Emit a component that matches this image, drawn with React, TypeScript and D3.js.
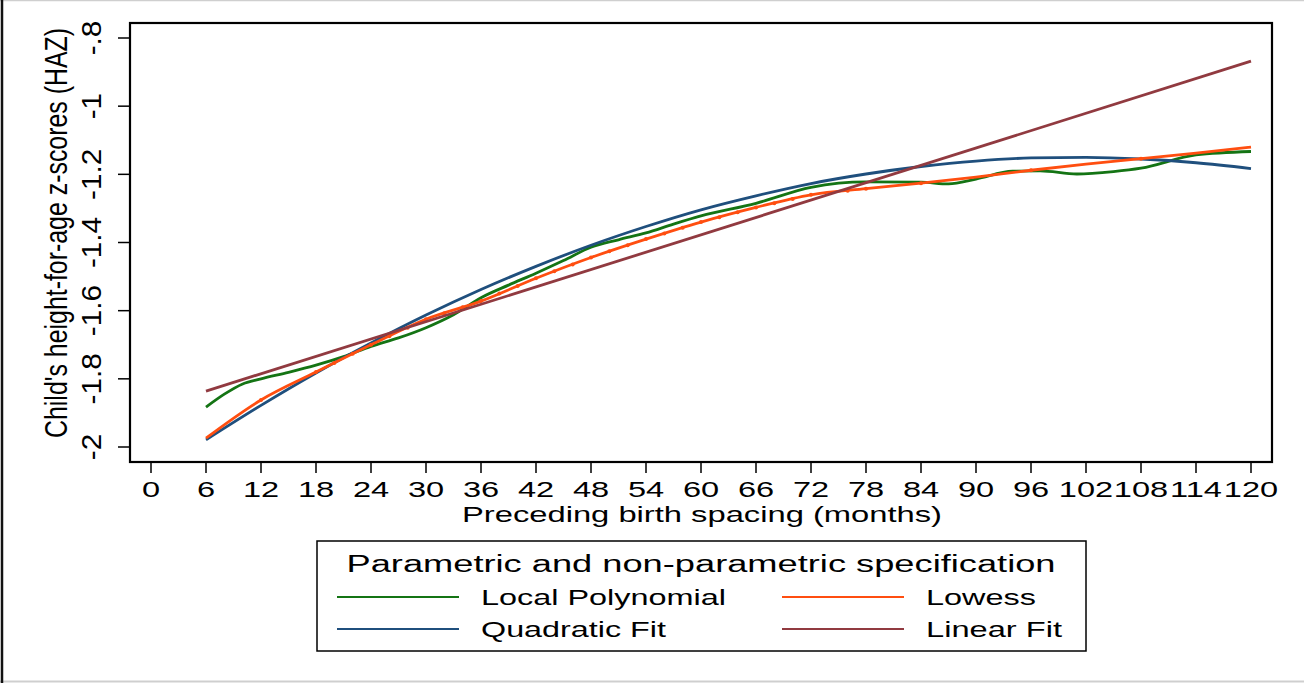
import React from "react";
import * as d3 from "d3";

// ---- Data ----
const xTicks = [0, 6, 12, 18, 24, 30, 36, 42, 48, 54, 60, 66, 72, 78, 84, 90, 96, 102, 108, 114, 120];
const yTicks = [-2, -1.8, -1.6, -1.4, -1.2, -1, -0.8];
const yTickLabels = ["-2", "-1.8", "-1.6", "-1.4", "-1.2", "-1", "-.8"];

const localPolyX = [6, 8, 10, 12, 15, 18, 21, 24, 27, 30, 33, 36, 39, 42, 45, 48, 51, 54, 57, 60, 66, 72, 78, 84, 87, 90, 94, 97, 101, 105, 108, 114, 120];
const localPolyY = [-1.883, -1.845, -1.815, -1.8, -1.781, -1.76, -1.735, -1.705, -1.68, -1.65, -1.612, -1.562, -1.525, -1.49, -1.453, -1.414, -1.392, -1.372, -1.346, -1.322, -1.285, -1.238, -1.222, -1.223, -1.228, -1.214, -1.191, -1.19, -1.199, -1.192, -1.182, -1.143, -1.133];

const lowessX = [6, 12, 18, 24, 30, 36, 42, 48, 54, 60, 66, 72, 78, 84, 90, 96, 102, 108, 114, 120];
const lowessY = [-1.974, -1.862, -1.78, -1.7, -1.625, -1.572, -1.505, -1.444, -1.39, -1.34, -1.297, -1.26, -1.242, -1.226, -1.208, -1.188, -1.17, -1.154, -1.138, -1.12];
const lowessMarkX = [12, 18, 20, 22, 24, 26, 28, 30, 32, 34, 36, 38, 40, 42, 44, 46, 48, 50, 52, 54, 56, 58, 60, 62, 64, 66, 68, 70, 72, 76, 78, 84, 96, 108];

const quadX = [6, 12, 18, 24, 30, 36, 42, 48, 54, 60, 66, 72, 78, 84, 90, 96, 102, 108, 114, 120];
const quadY = [-1.979, -1.878, -1.783, -1.695, -1.613, -1.538, -1.47, -1.408, -1.353, -1.304, -1.263, -1.227, -1.199, -1.177, -1.161, -1.152, -1.15, -1.155, -1.166, -1.183];

const linearX = [6, 120];
const linearY = [-1.836, -0.868];

const seriesNames = ["Local Polynomial", "Lowess", "Quadratic Fit", "Linear Fit"];
const seriesColors = ["#147414", "#ff4e10", "#1f4f7d", "#913a40"];

const xTitle = "Preceding birth spacing (months)";
const yTitle = "Child's height-for-age z-scores (HAZ)";
const legendTitle = "Parametric and non-parametric specification";

export default function App() {
  const x = d3.scaleLinear().domain([0, 120]).range([151, 1251]);
  const y = d3.scaleLinear().domain([-2, -0.8]).range([447, 38]);

  const mk = (xs: number[], ys: number[], curve: any) =>
    d3
      .line<number>()
      .x((_, i) => x(xs[i]))
      .y((d) => y(d))
      .curve(curve)(ys) as string;

  const pathLP = mk(localPolyX, localPolyY, d3.curveMonotoneX);
  const pathLow = mk(lowessX, lowessY, d3.curveMonotoneX);
  const pathQ = mk(quadX, quadY, d3.curveMonotoneX);
  const pathLin = mk(linearX, linearY, d3.curveLinear);
  const lowessAt = d3.scaleLinear().domain(lowessX).range(lowessY);

  const font = "'Liberation Sans', Arial, Helvetica, sans-serif";
  const lw = 2.8;

  // legend layout
  const legendItems = [
    { lx1: 337, lx2: 459, tx: 481, tw: 245, ly: 597 },
    { lx1: 782, lx2: 904, tx: 926, tw: 110, ly: 597 },
    { lx1: 337, lx2: 459, tx: 481, tw: 185, ly: 629 },
    { lx1: 782, lx2: 904, tx: 926, tw: 136, ly: 629 },
  ];

  return (
    <div style={{ position: "fixed", left: 0, top: 0, width: 1304, height: 683, background: "#fff" }}>
      <svg width={1304} height={683} style={{ display: "block" }} fontFamily={font}>
        <rect x={0} y={0} width={1304} height={683} fill="#fff" />
        {/* outer frame pieces */}
        <line x1={0} x2={1304} y1={0.5} y2={0.5} stroke="#cfcfcf" strokeWidth={1.5} />
        <line x1={0} x2={1304} y1={681.5} y2={681.5} stroke="#cfcfcf" strokeWidth={2} />
        <line x1={2} x2={2} y1={0} y2={683} stroke="#111" strokeWidth={2.5} />

        {/* plot frame */}
        <rect x={130} y={23} width={1142} height={439} fill="none" stroke="#000" strokeWidth={2.2} />

        {/* y ticks */}
        {yTicks.map((t, i) => (
          <g key={"yt" + i}>
            <line x1={118} x2={130} y1={y(t)} y2={y(t)} stroke="#000" strokeWidth={1.5} />
            <text
              transform={`translate(101,${y(t)}) rotate(-90) scale(1.35,1.25)`}
              textAnchor="middle"
              fontSize={22}
              fill="#000"
            >
              {yTickLabels[i]}
            </text>
          </g>
        ))}

        {/* x ticks */}
        {xTicks.map((t) => (
          <g key={"xt" + t}>
            <line x1={x(t)} x2={x(t)} y1={462} y2={473} stroke="#000" strokeWidth={1.5} />
            <text transform={`translate(${x(t)},497) scale(1.48,1)`} textAnchor="middle" fontSize={22} fill="#000">
              {String(t)}
            </text>
          </g>
        ))}

        {/* axis titles */}
        <text x={702} y={522} textAnchor="middle" fontSize={22} textLength={480} lengthAdjust="spacingAndGlyphs" fill="#000">
          {xTitle}
        </text>
        <text
          transform="translate(67,233) rotate(-90) scale(1,1.3)"
          textAnchor="middle"
          fontSize={24.5}
          textLength={410}
          lengthAdjust="spacingAndGlyphs"
          fill="#000"
        >
          {yTitle}
        </text>

        {/* series */}
        <path d={pathLP} fill="none" stroke={seriesColors[0]} strokeWidth={lw} strokeLinejoin="round" />
        <path d={pathQ} fill="none" stroke={seriesColors[2]} strokeWidth={lw} strokeLinejoin="round" />
        <path d={pathLow} fill="none" stroke={seriesColors[1]} strokeWidth={lw} strokeLinejoin="round" />
        {lowessMarkX.map((v, i) => (
          <circle key={"lm" + i} cx={x(v)} cy={y(lowessAt(v))} r={2} fill={seriesColors[1]} />
        ))}
        <path d={pathLin} fill="none" stroke={seriesColors[3]} strokeWidth={lw} />

        {/* legend */}
        <rect x={317} y={541} width={769} height={110} fill="#fff" stroke="#000" strokeWidth={1.5} />
        <text x={701} y={572} textAnchor="middle" fontSize={23.5} textLength={709} lengthAdjust="spacingAndGlyphs" fill="#000">
          {legendTitle}
        </text>
        {seriesNames.map((name, i) => {
          const it = legendItems[i];
          return (
            <g key={"lg" + i}>
              <line x1={it.lx1} x2={it.lx2} y1={it.ly} y2={it.ly} stroke={seriesColors[i]} strokeWidth={2.2} />
              <text x={it.tx} y={it.ly + 8} fontSize={21.5} textLength={it.tw} lengthAdjust="spacingAndGlyphs" fill="#000">
                {name}
              </text>
            </g>
          );
        })}
      </svg>
    </div>
  );
}
